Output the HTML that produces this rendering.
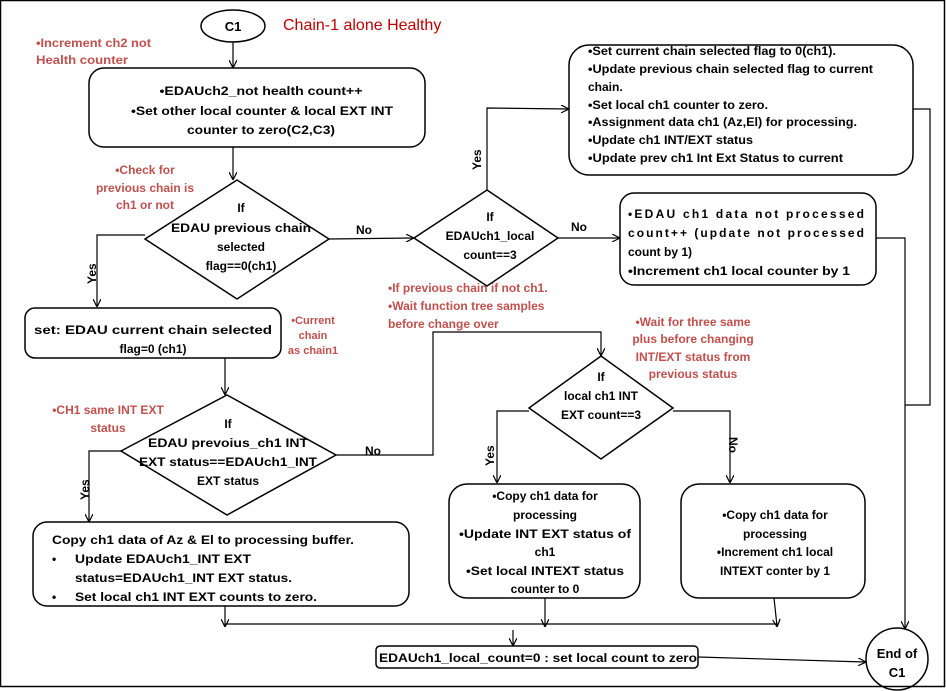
<!DOCTYPE html>
<html><head><meta charset="utf-8"><style>
html,body{margin:0;padding:0;background:#fff}
svg{display:block}
text{font-family:"Liberation Sans",sans-serif;font-weight:bold;font-size:12px;fill:#000}
.r{fill:#c0504d}
.c{text-anchor:middle}
</style></head><body>
<svg width="946" height="691" viewBox="0 0 946 691" xmlns="http://www.w3.org/2000/svg">
<defs><marker id="a" markerWidth="8" markerHeight="8" refX="7" refY="4" orient="auto" markerUnits="userSpaceOnUse"><path d="M0,0 L8,4 L0,8" fill="none" stroke="#000" stroke-width="1.2"/></marker></defs>
<rect x="0.5" y="0.5" width="944" height="686" fill="none" stroke="#000" stroke-width="1.5"/>
<g fill="none" stroke="#000" stroke-width="1.5">
<ellipse cx="233" cy="26" rx="32" ry="16"/>
<rect x="89" y="68" width="336" height="79" rx="15"/>
<polygon points="237,180 329,239 237,299 145,239"/>
<polygon points="487,190 558,238 487,286 414,238"/>
<rect x="569" y="45" width="344" height="130" rx="20"/>
<rect x="620" y="193" width="256" height="92" rx="14"/>
<rect x="25" y="308" width="256" height="50" rx="10"/>
<polygon points="227,395 336,455 227,515 121,451"/>
<polygon points="601,356 673,408 601,459 529,408"/>
<rect x="33" y="522" width="376" height="84" rx="14"/>
<rect x="449" y="484" width="191" height="114" rx="18"/>
<rect x="681" y="484" width="184" height="114" rx="18"/>
<rect x="376" y="646" width="322" height="22" rx="4"/>
<circle cx="897" cy="659" r="31"/>
</g>
<g fill="none" stroke="#000" stroke-width="1.2">
<path d="M233,42 V67" marker-end="url(#a)"/>
<path d="M233,147 V179" marker-end="url(#a)"/>
<path d="M329,239 L413,238" marker-end="url(#a)"/>
<path d="M145,235 H97 V306" marker-end="url(#a)"/>
<path d="M487,190 V108 L568,109" marker-end="url(#a)"/>
<path d="M558,238 H619" marker-end="url(#a)"/>
<path d="M913,109 H930 V405 H905"/>
<path d="M876,238 H905 V628" marker-end="url(#a)"/>
<path d="M225,358 V394" marker-end="url(#a)"/>
<path d="M336,455 H433 V332 H601 V355" marker-end="url(#a)"/>
<path d="M121,451 H89 V521" marker-end="url(#a)"/>
<path d="M529,411 H497 V482" marker-end="url(#a)"/>
<path d="M673,411 H730 V482" marker-end="url(#a)"/>
<path d="M225,606 V626" marker-end="url(#a)"/>
<path d="M545,598 V626" marker-end="url(#a)"/>
<path d="M774,598 L777,626" marker-end="url(#a)"/>
<path d="M225,624 H778"/>
<path d="M513,630 V645" marker-end="url(#a)"/>
<path d="M698,657 L865,662" marker-end="url(#a)"/>
</g>
<text x="233" y="31" class="c" style="font-size:13px">C1</text>
<text x="283" y="30" style="font-size:16px;font-weight:normal;fill:#c00000">Chain-1 alone Healthy</text>
<text x="36" y="47" class="r" textLength="115" lengthAdjust="spacingAndGlyphs">•Increment ch2 not</text>
<text x="36" y="64" class="r" textLength="92" lengthAdjust="spacingAndGlyphs">Health counter</text>
<text x="261" y="95" class="c" textLength="203" lengthAdjust="spacingAndGlyphs">•EDAUch2_not health count++</text>
<text x="262" y="115" class="c" textLength="262" lengthAdjust="spacingAndGlyphs">•Set other local counter &amp; local EXT INT</text>
<text x="261" y="134" class="c" textLength="148" lengthAdjust="spacingAndGlyphs">counter to zero(C2,C3)</text>
<text x="145" y="174" class="r c">•Check for</text>
<text x="145" y="192" class="r c">previous chain is</text>
<text x="145" y="209" class="r c">ch1 or not</text>
<text x="241" y="212" class="c">If</text>
<text x="241" y="232" class="c" textLength="140" lengthAdjust="spacingAndGlyphs">EDAU previous chain</text>
<text x="241" y="251" class="c">selected</text>
<text x="241" y="270" class="c">flag==0(ch1)</text>
<text x="356" y="234">No</text>
<text transform="translate(96,284) rotate(-90)">Yes</text>
<text x="490" y="221" class="c">If</text>
<text x="490" y="240" class="c">EDAUch1_local</text>
<text x="490" y="259" class="c">count==3</text>
<text transform="translate(481,170) rotate(-90)">Yes</text>
<text x="571" y="231">No</text>
<g>
<text x="588" y="55" textLength="248" lengthAdjust="spacingAndGlyphs">•Set current chain selected flag to 0(ch1).</text>
<text x="588" y="73" textLength="285" lengthAdjust="spacingAndGlyphs">•Update previous chain selected flag to current</text>
<text x="588" y="91">chain.</text>
<text x="588" y="109" textLength="180" lengthAdjust="spacingAndGlyphs">•Set local ch1 counter to zero.</text>
<text x="588" y="126" textLength="269" lengthAdjust="spacingAndGlyphs">•Assignment data ch1 (Az,El) for  processing.</text>
<text x="588" y="144" textLength="165" lengthAdjust="spacingAndGlyphs">•Update ch1 INT/EXT status</text>
<text x="588" y="162" textLength="255" lengthAdjust="spacingAndGlyphs">•Update  prev ch1 Int Ext Status to current</text>
</g>
<text x="628" y="218" textLength="236" lengthAdjust="spacing">•EDAU ch1 data not processed</text>
<text x="628" y="237" textLength="236" lengthAdjust="spacing">count++ (update not processed</text>
<text x="628" y="256">count by 1)</text>
<text x="628" y="275" textLength="222" lengthAdjust="spacingAndGlyphs">•Increment ch1 local counter by 1</text>
<text x="388" y="292" class="r">•If previous chain if not ch1.</text>
<text x="388" y="310" class="r">•Wait function tree samples</text>
<text x="388" y="328" class="r">before change over</text>
<text x="153" y="334" class="c" textLength="238" lengthAdjust="spacingAndGlyphs">set: EDAU current chain selected</text>
<text x="153" y="353" class="c">flag=0 (ch1)</text>
<text x="313" y="324" class="r c" style="font-size:11px">•Current</text>
<text x="313" y="339" class="r c" style="font-size:11px">chain</text>
<text x="313" y="354" class="r c" style="font-size:11px">as chain1</text>
<text x="693" y="326" class="r c">•Wait for three same</text>
<text x="693" y="343" class="r c">plus before changing</text>
<text x="693" y="361" class="r c">INT/EXT status from</text>
<text x="693" y="378" class="r c">previous status</text>
<text x="108" y="414" class="r c">•CH1 same INT EXT</text>
<text x="108" y="432" class="r c">status</text>
<text x="228" y="428" class="c">If</text>
<text x="228" y="447" class="c" textLength="160" lengthAdjust="spacingAndGlyphs">EDAU prevoius_ch1 INT</text>
<text x="228" y="466" class="c" textLength="178" lengthAdjust="spacingAndGlyphs">EXT status==EDAUch1_INT</text>
<text x="228" y="485" class="c">EXT status</text>
<text x="365" y="455">No</text>
<text transform="translate(89,500) rotate(-90)">Yes</text>
<text x="601" y="381" class="c">If</text>
<text x="601" y="400" class="c">local ch1 INT</text>
<text x="601" y="419" class="c">EXT count==3</text>
<text transform="translate(494,466) rotate(-90)">Yes</text>
<text transform="translate(729,437) rotate(90)">No</text>
<text x="52" y="544" textLength="302" lengthAdjust="spacingAndGlyphs">Copy ch1 data of Az &amp; El to processing buffer.</text>
<text x="52" y="563">•</text><text x="75" y="563" textLength="176" lengthAdjust="spacingAndGlyphs">Update EDAUch1_INT EXT</text>
<text x="75" y="582" textLength="217" lengthAdjust="spacingAndGlyphs">status=EDAUch1_INT EXT status.</text>
<text x="52" y="601">•</text><text x="75" y="601" textLength="242" lengthAdjust="spacingAndGlyphs">Set local ch1 INT EXT counts to zero.</text>
<text x="545" y="500" class="c">•Copy ch1 data for</text>
<text x="545" y="519" class="c">processing</text>
<text x="545" y="538" class="c" textLength="172" lengthAdjust="spacingAndGlyphs">•Update INT EXT status of</text>
<text x="545" y="556" class="c">ch1</text>
<text x="545" y="575" class="c" textLength="158" lengthAdjust="spacingAndGlyphs">•Set local INTEXT status</text>
<text x="545" y="593" class="c">counter to 0</text>
<text x="775" y="519" class="c">•Copy ch1 data for</text>
<text x="775" y="538" class="c">processing</text>
<text x="775" y="556" class="c">•Increment ch1 local</text>
<text x="775" y="575" class="c">INTEXT  conter by 1</text>
<text x="379" y="662" textLength="318" lengthAdjust="spacingAndGlyphs">EDAUch1_local_count=0 : set local count to zero</text>
<text x="897" y="658" class="c" style="font-size:13px">End of</text>
<text x="897" y="677" class="c" style="font-size:13px">C1</text>
</svg>
</body></html>
